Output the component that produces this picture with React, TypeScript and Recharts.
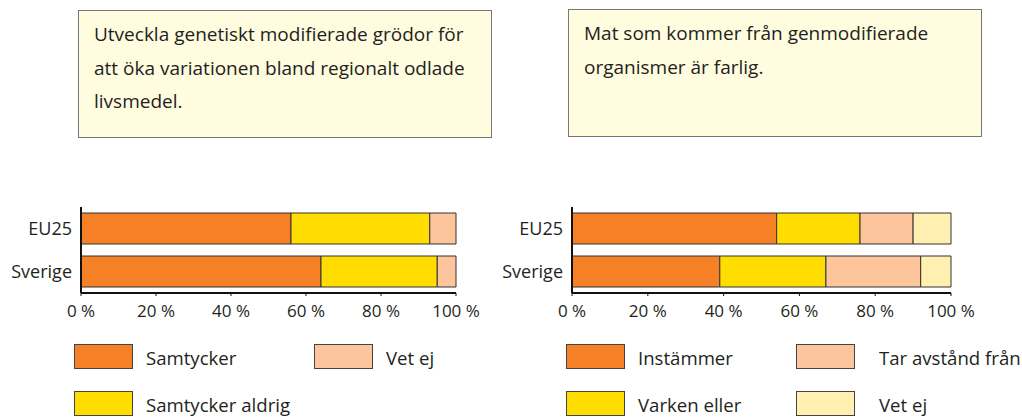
import React from "react";
import { BarChart, Bar, XAxis, YAxis } from "recharts";

const categories = ["EU25", "Sverige"];
const ticks = [0, 20, 40, 60, 80, 100];

// left chart
const samtycker = [56, 64];
const samtyckerAldrig = [37, 31];
const vetEjLeft = [7, 5];

// right chart
const instammer = [54, 39];
const varkenEller = [22, 28];
const tarAvstand = [14, 25];
const vetEjRight = [10, 8];

const leftQuestion = [
  "Utveckla genetiskt modifierade grödor för",
  "att öka variationen bland regionalt odlade",
  "livsmedel.",
];
const rightQuestion = ["Mat som kommer från genmodifierade", "organismer är farlig."];

const ORANGE = "#F58025";
const YELLOW = "#FFDD00";
const PEACH = "#FDC59B";
const PALE = "#FFEFB0";
const FONT = "'Open Sans', Lato, sans-serif";
const TEXT = "#231F20";

const leftSeries = [
  { key: "samtycker", name: "Samtycker", color: ORANGE, values: samtycker },
  { key: "aldrig", name: "Samtycker aldrig", color: YELLOW, values: samtyckerAldrig },
  { key: "vetej", name: "Vet ej", color: PEACH, values: vetEjLeft },
];

const rightSeries = [
  { key: "instammer", name: "Instämmer", color: ORANGE, values: instammer },
  { key: "varken", name: "Varken eller", color: YELLOW, values: varkenEller },
  { key: "tar", name: "Tar avstånd från", color: PEACH, values: tarAvstand },
  { key: "vetej", name: "Vet ej", color: PALE, values: vetEjRight },
];

function buildRows(series: typeof leftSeries) {
  return categories.map((c, i) => {
    const row: any = { name: c };
    series.forEach((s) => (row[s.key] = s.values[i]));
    return row;
  });
}

function StackChart({
  series,
  left,
  right,
}: {
  series: typeof leftSeries;
  left: number;
  right: number;
}) {
  const data = buildRows(series);
  return (
    <div style={{ position: "absolute", left, top: 190 }}>
      <BarChart
        width={500}
        height={140}
        data={data}
        layout="vertical"
        barCategoryGap={6}
        margin={{ top: 17, right, left: 11, bottom: 7 }}
      >
        <XAxis
          type="number"
          domain={[0, 100]}
          ticks={ticks}
          tickFormatter={(v) => `${v} %`}
          axisLine={{ stroke: "#111", strokeWidth: 2 }}
          tickLine={{ stroke: "#111" }}
          tickSize={3}
          tickMargin={9}
          height={30}
          tick={{ fill: TEXT, fontSize: 17, fontFamily: FONT }}
        />
        <YAxis
          type="category"
          dataKey="name"
          width={70}
          axisLine={{ stroke: "#111", strokeWidth: 2 }}
          tickLine={false}
          tickMargin={3}
          tick={{ fill: TEXT, fontSize: 18, fontFamily: FONT }}
        />
        {series.map((s) => (
          <Bar
            key={s.key}
            dataKey={s.key}
            name={s.name}
            stackId="a"
            fill={s.color}
            stroke="#333"
            strokeWidth={1}
            isAnimationActive={false}
          />
        ))}
      </BarChart>
    </div>
  );
}

function TextBox({ left, top, lines }: { left: number; top: number; lines: string[] }) {
  return (
    <div
      style={{
        position: "absolute",
        left,
        top,
        width: 414,
        height: 128,
        boxSizing: "border-box",
        background: "#FFFCE0",
        border: "1px solid #777",
        padding: "7px 10px 0 15px",
        fontFamily: FONT,
        fontSize: 19,
        lineHeight: "33.5px",
        color: TEXT,
        whiteSpace: "nowrap",
      }}
    >
      {lines.map((l, i) => (
        <div key={i}>{l}</div>
      ))}
    </div>
  );
}

function LegendGrid({
  series,
  left,
  colX,
  labelGap,
}: {
  series: typeof leftSeries;
  left: number;
  colX: number;
  labelGap: number[];
}) {
  // items laid out column-first, two rows
  return (
    <>
      {series.map((s, i) => {
        const col = Math.floor(i / 2);
        const row = i % 2;
        const x = left + col * colX;
        const y = 343 + row * 47;
        return (
          <div
            key={s.key}
            style={{ position: "absolute", left: x, top: y, display: "flex", alignItems: "center" }}
          >
            <div
              style={{
                width: 59,
                height: 25,
                boxSizing: "border-box",
                background: s.color,
                border: "1px solid #444",
              }}
            />
            <span
              style={{
                marginLeft: labelGap[col],
                fontFamily: FONT,
                fontSize: 18.6,
                color: TEXT,
                marginTop: 2,
                whiteSpace: "nowrap",
              }}
            >
              {s.name}
            </span>
          </div>
        );
      })}
    </>
  );
}

export default function App() {
  return (
    <div
      style={{
        position: "absolute",
        left: 0,
        top: 0,
        width: 1022,
        height: 419,
        background: "#fff",
        overflow: "hidden",
      }}
    >
      <TextBox left={78} top={10} lines={leftQuestion} />
      <TextBox left={568} top={9} lines={rightQuestion} />
      <StackChart series={leftSeries} left={0} right={44} />
      <StackChart series={rightSeries} left={491} right={40} />
      <LegendGrid series={leftSeries} left={74} colX={240} labelGap={[13, 13]} />
      <LegendGrid series={rightSeries} left={566} colX={230} labelGap={[13, 24]} />
    </div>
  );
}
